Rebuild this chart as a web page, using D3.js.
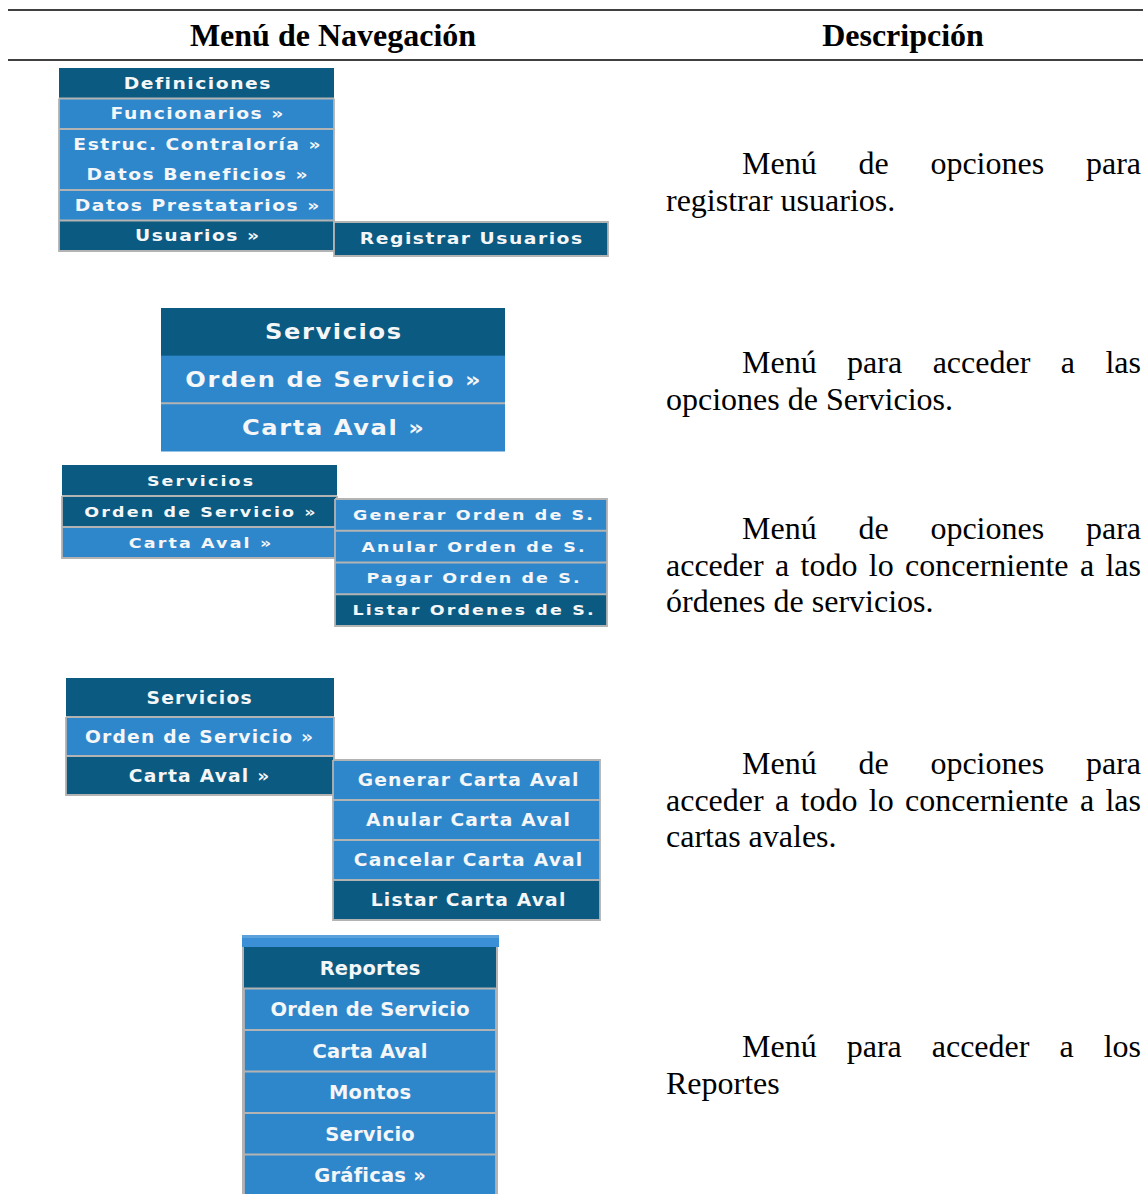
<!DOCTYPE html>
<html><head><meta charset="utf-8">
<script src="https://cdn.jsdelivr.net/npm/d3@7"></script>
<style>html,body{margin:0;padding:0;background:#fff;}svg{display:block;}</style>
</head><body>
<svg id="c" width="1143" height="1194"></svg>
<script>
// ---- data ----
const headers = ["Menú de Navegación", "Descripción"];
const menuDefiniciones = ["Definiciones","Funcionarios »","Estruc. Contraloría »","Datos Beneficios »","Datos Prestatarios »","Usuarios »"];
const darkDefiniciones = [0, 5];
const subUsuarios = ["Registrar Usuarios"];
const darkUsuarios = [0];
const menuServicios = ["Servicios","Orden de Servicio »","Carta Aval »"];
const darkServiciosA = [0];
const darkServiciosB = [0, 1];
const darkServiciosC = [0, 2];
const subOrden = ["Generar Orden de S.","Anular Orden de S.","Pagar Orden de S.","Listar Ordenes de S."];
const darkOrden = [3];
const subCarta = ["Generar Carta Aval","Anular Carta Aval","Cancelar Carta Aval","Listar Carta Aval"];
const darkCarta = [3];
const menuReportes = ["Reportes","Orden de Servicio","Carta Aval","Montos","Servicio","Gráficas »"];
const darkReportes = [0];
const descriptions = [
  ["Menú de opciones para","registrar usuarios."],
  ["Menú para acceder a las","opciones de Servicios."],
  ["Menú de opciones para","acceder a todo lo concerniente a las","órdenes de servicios."],
  ["Menú de opciones para","acceder a todo lo concerniente a las","cartas avales."],
  ["Menú para acceder a los","Reportes"]
];

// ---- layout / style ----
const DARK = "#0b5a81", LIGHT = "#2f87cb", SEP = "#b3b3b3", TXT = "#f4f6f8";
const panels = [
  {items: menuDefiniciones, dark: darkDefiniciones, x:[59,334], y:[68,251], cx:197, fs:15, sx:1.25, ls:1.2, noSep:[3], outline:true},
  {items: subUsuarios, dark: darkUsuarios, x:[334,608], y:[222,256], cx:471, fs:15, sx:1.25, ls:1.2, outline:true},
  {items: menuServicios, dark: darkServiciosA, x:[161,505], y:[308,451], cx:333, fs:21, sx:1.15, ls:1.4, noSep:[1], outline:false},
  {items: menuServicios, dark: darkServiciosB, x:[62,337], y:[465,558], cx:200, fs:14, sx:1.25, ls:1.7, outline:true},
  {items: subOrden, dark: darkOrden, x:[335,607], y:[499,626], cx:473, fs:14, sx:1.25, ls:1.7, outline:true},
  {items: menuServicios, dark: darkServiciosC, x:[66,334], y:[678,795], cx:199, fs:17, sx:1.1, ls:1.1, outline:true},
  {items: subCarta, dark: darkCarta, x:[333,600], y:[760,920], cx:468, fs:17, sx:1.1, ls:1.1, outline:true},
  {items: menuReportes, dark: darkReportes, x:[244,496], y:[947,1196], cx:370, fs:19.5, sx:1, ls:0.2, outline:true}
];
const descBase = [174, 373, 539, 774, 1057];
const lineH = 36.7;
const descX0 = 666, descX1 = 1141, indent = 76;

const svg = d3.select("#c");

// table rules
svg.append("line").attr("x1",8).attr("x2",1143).attr("y1",10).attr("y2",10).attr("stroke","#000").attr("stroke-width",1.3);
svg.append("line").attr("x1",8).attr("x2",1143).attr("y1",60).attr("y2",60).attr("stroke","#000").attr("stroke-width",1.3);

// headers
const hx = [333, 903];
svg.selectAll("text.hdr").data(headers).join("text").attr("class","hdr")
  .attr("x",(d,i)=>hx[i]).attr("y",46).attr("text-anchor","middle")
  .attr("font-family","'Liberation Serif', 'Times New Roman', serif").attr("font-weight","bold")
  .attr("font-size",32).attr("fill","#000").text(d=>d);

// Reportes top blurred strip
svg.append("rect").attr("x",242).attr("y",935).attr("width",257).attr("height",12).attr("fill","#3a8fd6");
svg.append("rect").attr("x",242).attr("y",935).attr("width",257).attr("height",3).attr("fill","#6aa9e0").attr("opacity",0.7);

// menus
panels.forEach(p => {
  const g = svg.append("g");
  const band = d3.scaleBand().domain(d3.range(p.items.length)).range(p.y).paddingInner(0);
  const w = p.x[1]-p.x[0];
  g.selectAll("rect.row").data(p.items).join("rect").attr("class","row")
    .attr("x",p.x[0]).attr("y",(d,i)=>band(i)).attr("width",w).attr("height",band.bandwidth()+0.5)
    .attr("fill",(d,i)=>p.dark.includes(i)?DARK:LIGHT);
  const noSep = p.noSep || [];
  g.selectAll("line.sep").data(d3.range(1,p.items.length).filter(i=>!noSep.includes(i))).join("line").attr("class","sep")
    .attr("x1",p.x[0]).attr("x2",p.x[1]).attr("y1",i=>band(i)).attr("y2",i=>band(i))
    .attr("stroke",SEP).attr("stroke-width",2);
  if (p.outline) {
    const hdrDark = p.dark.includes(0) && p.items.length>1;
    const top = hdrDark ? band(1) : p.y[0];
    g.append("path").attr("d",`M${p.x[0]},${top}V${p.y[1]}H${p.x[1]}V${top}`+(hdrDark?"":`H${p.x[0]}`))
      .attr("fill","none").attr("stroke",SEP).attr("stroke-width",1.8);
  }
  g.selectAll("g.lbl").data(p.items).join("g").attr("class","lbl")
    .attr("transform",(d,i)=>`translate(${p.cx},${band(i)+band.bandwidth()/2 + p.fs*0.36}) scale(${p.sx},1)`)
    .append("text").attr("x",p.ls/2).attr("y",0)
    .attr("text-anchor","middle").attr("font-family","'DejaVu Sans', Verdana, sans-serif")
    .attr("font-weight","bold").attr("font-size",p.fs).attr("letter-spacing",p.ls)
    .attr("fill",TXT).text(d=>d);
});
// Reportes side borders
svg.append("line").attr("x1",243).attr("x2",243).attr("y1",947).attr("y2",1194).attr("stroke",SEP).attr("stroke-width",2);
svg.append("line").attr("x1",497).attr("x2",497).attr("y1",947).attr("y2",1194).attr("stroke",SEP).attr("stroke-width",2);

// descriptions (justified)
const FONT = "'Liberation Serif', 'Times New Roman', serif", FS = 32;
const meas = svg.append("text").attr("font-family",FONT).attr("font-size",FS).attr("visibility","hidden");
function wlen(s){ meas.text(s); return meas.node().getComputedTextLength(); }
descriptions.forEach((lines, pi) => {
  lines.forEach((ln, li) => {
    const y = descBase[pi] + li*lineH;
    const x0 = descX0 + (li===0 ? indent : 0);
    const last = li === lines.length-1;
    if (last) {
      svg.append("text").attr("x",x0).attr("y",y).attr("font-family",FONT).attr("font-size",FS).attr("fill","#000").text(ln);
    } else {
      const words = ln.split(" ");
      const ws = words.map(wlen);
      const gap = (descX1 - x0 - d3.sum(ws)) / (words.length-1);
      let x = x0;
      words.forEach((wd,k)=>{
        svg.append("text").attr("x",x).attr("y",y).attr("font-family",FONT).attr("font-size",FS).attr("fill","#000").text(wd);
        x += ws[k] + gap;
      });
    }
  });
});
meas.remove();
</script>
</body></html>
